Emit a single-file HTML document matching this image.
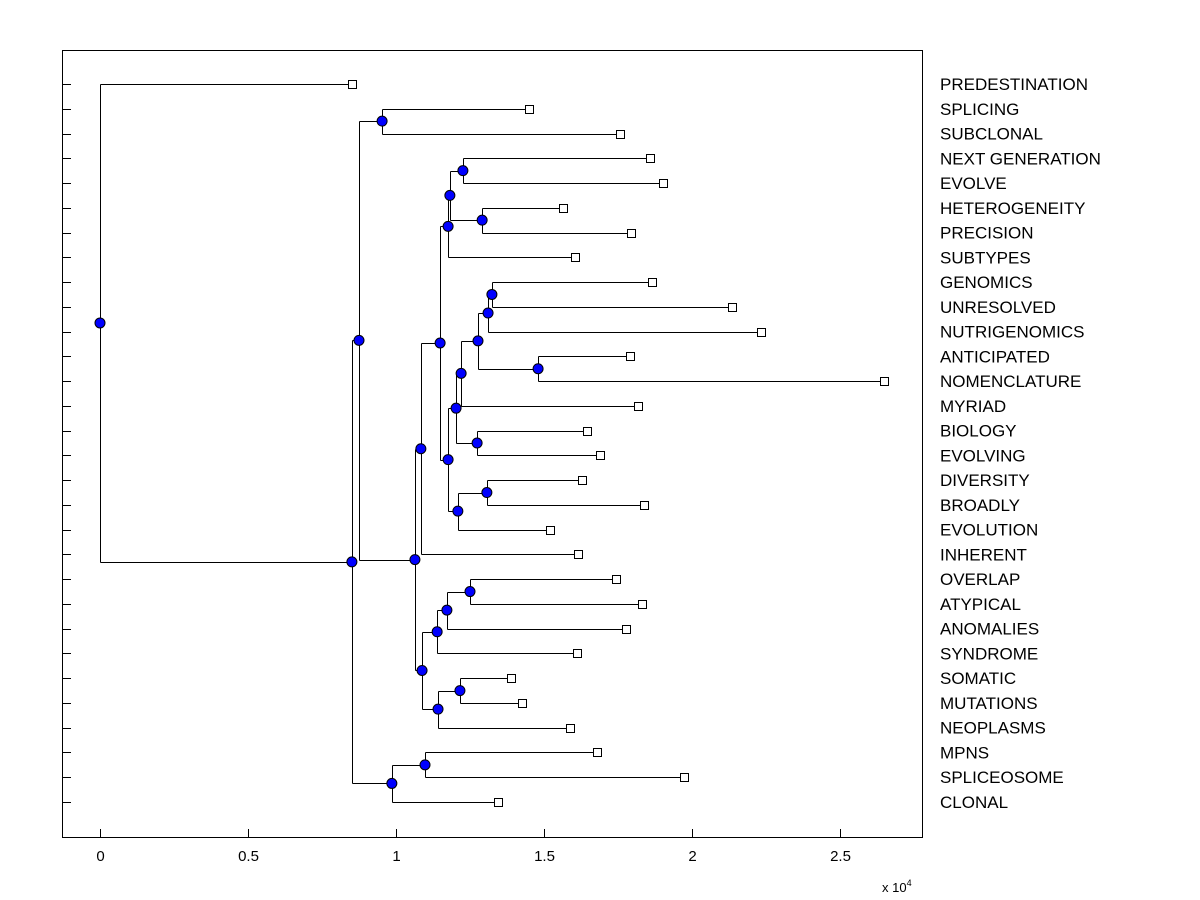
<!DOCTYPE html>
<html><head><meta charset="utf-8"><style>
body{margin:0;background:#fff;}
svg{display:block;font-family:"Liberation Sans",Arial,sans-serif;}
</style></head><body>
<svg id="chart" width="1200" height="900" viewBox="0 0 1200 900" xmlns="http://www.w3.org/2000/svg">
<rect x="0" y="0" width="1200" height="900" fill="#fff"/>
<rect x="62.5" y="50.5" width="860" height="787" fill="none" stroke="#000" stroke-width="1"/>
<g id="g"></g>
<text x="882" y="892" font-size="13">x 10<tspan dy="-6" font-size="9">4</tspan></text>
</svg>
<script>
const labels=["PREDESTINATION","SPLICING","SUBCLONAL","NEXT GENERATION","EVOLVE","HETEROGENEITY","PRECISION","SUBTYPES","GENOMICS","UNRESOLVED","NUTRIGENOMICS","ANTICIPATED","NOMENCLATURE","MYRIAD","BIOLOGY","EVOLVING","DIVERSITY","BROADLY","EVOLUTION","INHERENT","OVERLAP","ATYPICAL","ANOMALIES","SYNDROME","SOMATIC","MUTATIONS","NEOPLASMS","MPNS","SPLICEOSOME","CLONAL"];
const leafDist=[0.851,1.449,1.757,1.858,1.902,1.564,1.794,1.605,1.865,2.135,2.233,1.791,2.649,1.818,1.645,1.689,1.628,1.838,1.520,1.615,1.743,1.831,1.777,1.611,1.389,1.426,1.588,1.679,1.973,1.345];
const nodeChildren=[[1,2],[3,4],[5,6],[31,32],[33,7],[8,9],[35,10],[11,12],[36,37],[38,13],[14,15],[39,40],[16,17],[42,18],[41,43],[34,44],[45,19],[20,21],[47,22],[48,23],[24,25],[50,26],[49,51],[46,52],[30,53],[27,28],[55,29],[54,56],[0,57]];
const nodeDist=[0.953,1.226,1.291,1.182,1.176,1.324,1.311,1.480,1.277,1.220,1.274,1.203,1.307,1.209,1.176,1.149,1.084,1.250,1.172,1.139,1.216,1.142,1.088,1.064,0.875,1.098,0.986,0.851,0];
const xTicks=[0,0.5,1,1.5,2,2.5];
const xTickLabels=["0","0.5","1","1.5","2","2.5"];

const NS="http://www.w3.org/2000/svg";
const g=document.getElementById('g');
const X=v=>100+v*296;
const Y=i=>84+i*(802-84)/29;
function mk(t,a){const e=document.createElementNS(NS,t);for(const k in a)e.setAttribute(k,a[k]);g.appendChild(e);return e;}
const N=leafDist.length;
const px=[],py=[];
for(let i=0;i<N;i++){px[i]=X(leafDist[i]);py[i]=Y(i);}
nodeChildren.forEach((c,k)=>{const id=N+k;px[id]=X(nodeDist[k]);py[id]=(py[c[0]]+py[c[1]])/2;});
for(let i=0;i<N;i++){
  const t=mk('line',{x1:62.5,x2:71,y1:Math.round(Y(i))+0.5,y2:Math.round(Y(i))+0.5,stroke:'#000'});
  
  
}
xTicks.forEach((v,i)=>{
  const x=Math.round(X(v))+0.5;
  const t=mk('line',{x1:x,x2:x,y1:837.5,y2:829,stroke:'#000'});
  
  
  const l=mk('text',{x:x,y:861,'font-size':15,'text-anchor':'middle'});
  l.textContent=xTickLabels[i];
  
  
});
nodeChildren.forEach((c,k)=>{
  const id=N+k;
  const x=Math.round(px[id])+0.5;
  const v=mk('line',{x1:x,x2:x,y1:Math.round(py[c[0]])+0.5,y2:Math.round(py[c[1]])+0.5,stroke:'#000'});
  
  
  c.forEach(ch=>{
    const y=Math.round(py[ch])+0.5;
    const h=mk('line',{x1:x,x2:Math.round(px[ch])+0.5,y1:y,y2:y,stroke:'#000'});
    
    
  });
});
nodeChildren.forEach((c,k)=>{
  const id=N+k;
  const e=mk('circle',{cx:px[id],cy:py[id],r:5,fill:'#0000ff',stroke:'#000','stroke-width':1});
  
  
});
for(let i=0;i<N;i++){
  const e=mk('rect',{x:Math.round(px[i])-3.5,y:Math.round(py[i])-3.5,width:8,height:8,fill:'#fff',stroke:'#000'});
  
  
  const l=mk('text',{x:940,y:py[i]+6,'font-size':17});
  l.textContent=labels[i];
  
  
}
</script>
</body></html>
